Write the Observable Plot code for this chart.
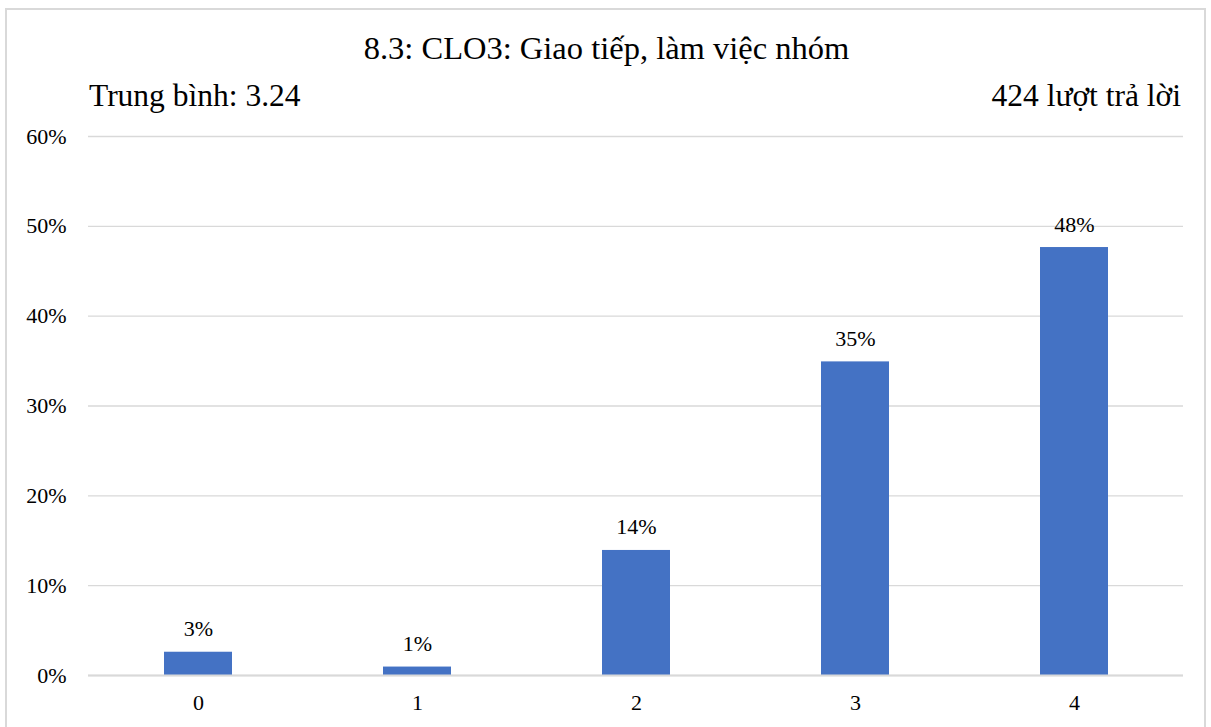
<!DOCTYPE html>
<html>
<head>
<meta charset="utf-8">
<script src="https://cdn.jsdelivr.net/npm/d3@7"></script>
<script src="https://cdn.jsdelivr.net/npm/@observablehq/plot@0.6"></script>
<style>
  body { margin: 0; background: #fff; font-family: "Liberation Serif", "Times New Roman", serif; }
  #wrap { position: relative; width: 1211px; height: 727px; overflow: hidden; }
  #frame { position: absolute; left: 5px; top: 8px; width: 1201px; height: 760px; border: 2px solid #d9d9d9; box-sizing: border-box; }
  #header { position: relative; height: 118px; }
  #title { position: absolute; left: 0; right: 0; top: 28px; text-align: center; font-size: 32.5px; line-height: 40px; color: #000; padding-left: 2px; }
  #sub-left { position: absolute; left: 89px; top: 76px; font-size: 31.5px; line-height: 40px; color: #000; }
  #sub-right { position: absolute; right: 30px; top: 76px; font-size: 31.5px; line-height: 40px; color: #000; }
  #chart { position: relative; }
  #chart svg, #chart svg text { font-family: "Liberation Serif", "Times New Roman", serif !important; }
</style>
</head>
<body>
<div id="wrap">
  <div id="frame"></div>
  <div id="header">
    <div id="title">8.3: CLO3: Giao tiếp, làm việc nhóm</div>
    <div id="sub-left">Trung bình: 3.24</div>
    <div id="sub-right">424 lượt trả lời</div>
  </div>
  <div id="chart"></div>
</div>
<script>
const categories = ["0", "1", "2", "3", "4"];
const shares = [0.0259, 0.0094, 0.1392, 0.3491, 0.4764];
const labels = ["3%", "1%", "14%", "35%", "48%"];
const yTicks = [0, 0.1, 0.2, 0.3, 0.4, 0.5, 0.6];

const data = categories.map((c, i) => ({cat: c, value: shares[i], label: labels[i]}));

const chart = Plot.plot({
  width: 1211,
  height: 609,
  marginTop: 18,
  marginBottom: 52,
  marginLeft: 88,
  marginRight: 28,
  style: {fontSize: "22px", color: "#000", background: "transparent"},
  x: {domain: categories, paddingInner: 0.69, paddingOuter: 0.345, label: null, tickSize: 0, tickPadding: 19},
  y: {domain: [0, 0.6], ticks: yTicks, tickFormat: d => Math.round(d * 100) + "%", label: null, tickSize: 0, tickPadding: 22},
  marks: [
    Plot.gridY(yTicks, {stroke: "#d9d9d9", strokeOpacity: 1, strokeWidth: 1.3}),
    Plot.barY(data, {x: "cat", y: "value", fill: "#4472c4"}),
    Plot.ruleY([0], {stroke: "#d9d9d9", strokeWidth: 2}),
    Plot.text(data, {x: "cat", y: "value", text: "label", dy: -23, fontSize: 22, fill: "#000"})
  ]
});
document.getElementById("chart").appendChild(chart);
</script>
</body>
</html>
